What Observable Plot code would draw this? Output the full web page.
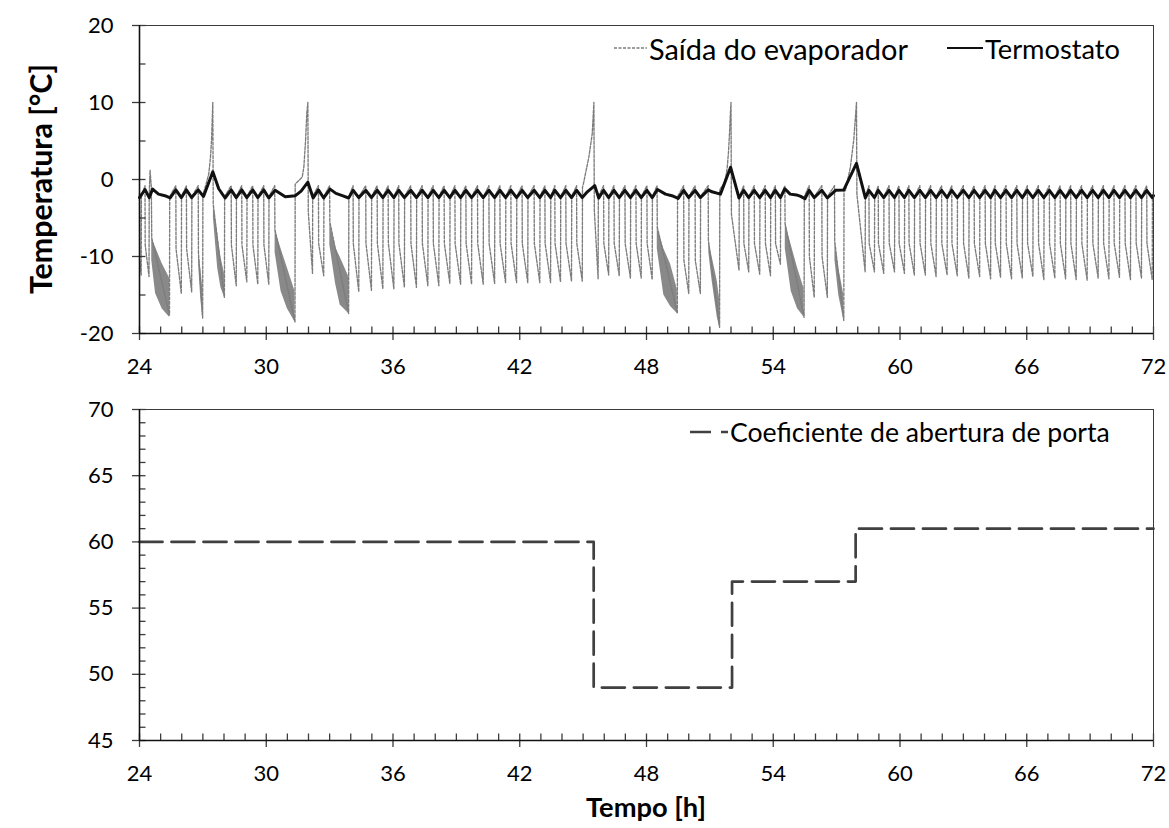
<!DOCTYPE html>
<html><head><meta charset="utf-8">
<script src="https://cdn.jsdelivr.net/npm/d3@7"></script>
<script src="https://cdn.jsdelivr.net/npm/@observablehq/plot@0.6"></script>
<style>
html,body{margin:0;padding:0;background:#fff;overflow:hidden}
#wrap{position:relative;width:1169px;height:828px;font-family:Lato,sans-serif}
#wrap svg{display:block}
</style></head><body><div id="wrap"></div>
<script>
// ---------- data ----------
const xMajor = [24, 30, 36, 42, 48, 54, 60, 66, 72];
const yMajorTemp = [-20, -10, 0, 10, 20];
const yMinorTemp = [-15, -5, 5, 15];
const yMajorPorta = [45, 50, 55, 60, 65, 70];

// Saída do evaporador [t (h), °C]
const evaporador = [
[24.00,-1.8],[24.01,-10.5],[24.08,-12.4],[24.09,-2.2],[24.26,-0.8],[24.27,-8.5],[24.45,-12.6],[24.46,-2.0],[24.50,1.2],[24.56,-1.0],[24.58,-7.6],[25.42,-17.6],[25.43,-2.2],
[25.72,-0.8],[25.73,-9.0],[25.98,-14.8],[25.99,-2.2],[26.22,-0.8],[26.23,-9.0],[26.47,-14.6],[26.48,-2.2],[26.78,-0.8],[26.79,-9.5],[26.99,-18.0],[27.00,-2.0],
[27.16,-0.5],[27.20,-0.1],[27.28,0.75],[27.36,2.9],[27.41,5.1],[27.47,10],[27.49,-3.2],[28.02,-15.3],[28.03,-2.2],
[28.34,-0.8],[28.35,-8.5],[28.58,-13.8],[28.59,-2.2],[28.84,-0.8],[28.85,-8.5],[29.08,-13.3],[29.09,-2.2],[29.36,-0.8],[29.37,-8.5],[29.60,-13.6],[29.61,-2.2],[29.88,-0.8],[29.89,-8.5],[30.12,-13.6],[30.13,-2.2],
[30.40,-0.8],[30.41,-6.5],[31.36,-18.5],[31.37,-0.6],[31.46,-0.35],[31.70,0.3],[31.78,1.6],[31.86,5.0],[31.92,8.6],[31.97,10],[31.99,-4.2],[32.19,-12.2],[32.20,-2.2],
[32.47,-0.8],[32.48,-8.3],[32.72,-12.5],[32.73,-2.2],[33.00,-0.8],[33.01,-5.5],[33.90,-17.4],[33.91,-2.2],
[34.11,-0.8],[34.12,-8.3],[34.38,-14.6],[34.39,-2.2],
[34.71,-0.8],[34.72,-8.3],[34.98,-14.4],[34.99,-2.2],
[35.25,-0.8],[35.26,-8.3],[35.52,-14.2],[35.53,-2.2],
[35.77,-0.8],[35.78,-8.3],[36.04,-14.2],[36.05,-2.2],
[36.27,-0.8],[36.28,-8.3],[36.54,-14.0],[36.55,-2.2],
[36.84,-0.8],[36.85,-8.3],[37.11,-14.0],[37.12,-2.2],
[37.38,-0.8],[37.39,-8.3],[37.65,-13.8],[37.66,-2.2],
[37.90,-0.8],[37.91,-8.3],[38.17,-13.8],[38.18,-2.2],
[38.42,-0.8],[38.43,-8.3],[38.69,-13.5],[38.70,-2.2],
[38.93,-0.8],[38.94,-8.3],[39.20,-13.6],[39.21,-2.2],
[39.45,-0.8],[39.46,-8.3],[39.72,-13.6],[39.73,-2.2],
[40.00,-0.8],[40.01,-8.3],[40.27,-13.6],[40.28,-2.2],
[40.54,-0.8],[40.55,-8.3],[40.81,-13.5],[40.82,-2.2],
[41.06,-0.8],[41.07,-8.3],[41.33,-13.4],[41.34,-2.2],
[41.58,-0.8],[41.59,-8.3],[41.85,-13.4],[41.86,-2.2],
[42.11,-0.8],[42.12,-8.3],[42.38,-13.4],[42.39,-2.2],
[42.68,-0.8],[42.69,-8.3],[42.95,-13.4],[42.96,-2.2],
[43.19,-0.8],[43.20,-8.3],[43.46,-13.4],[43.47,-2.2],
[43.66,-0.8],[43.67,-8.3],[43.93,-13.3],[43.94,-2.2],
[44.18,-0.8],[44.19,-8.3],[44.45,-13.2],[44.46,-2.2],
[44.69,-0.8],[44.70,-8.3],[44.96,-13.2],
[44.97,-1.0],[45.03,-0.35],[45.11,0.75],[45.27,2.9],[45.43,5.9],[45.51,10],[45.53,-4.0],[45.71,-12.9],[45.72,-2.2],
[45.97,-0.8],[45.98,-8.3],[46.21,-12.4],[46.22,-2.2],
[46.46,-0.8],[46.47,-8.3],[46.71,-12.5],[46.72,-2.2],
[46.98,-0.8],[46.99,-8.3],[47.24,-12.8],[47.25,-2.2],
[47.50,-0.8],[47.51,-8.3],[47.75,-12.8],[47.76,-2.2],
[48.02,-0.8],[48.03,-8.3],[48.27,-13.0],[48.28,-2.2],
[48.50,-0.8],[48.51,-6.2],[49.46,-17.4],[49.47,-2.2],
[49.76,-0.8],[49.77,-10.5],[50.00,-14.8],[50.01,-2.2],
[50.30,-0.8],[50.31,-10.5],[50.55,-14.8],[50.56,-2.2],
[50.92,-0.8],[50.93,-7.9],[51.46,-19.2],[51.47,-1.3],
[51.65,-0.6],[51.75,0.3],[51.82,1.5],[51.88,3.5],[51.93,6],[51.97,8.5],[52.00,10],[52.02,-4.5],[52.38,-11.8],[52.39,-2.2],
[52.60,-0.8],[52.61,-8.3],[52.84,-12.0],[52.85,-2.2],
[53.10,-0.8],[53.11,-8.3],[53.36,-12.3],[53.37,-2.2],
[53.62,-0.8],[53.63,-8.3],[53.87,-12.5],[53.88,-2.2],
[54.10,-0.8],[54.11,-8.3],[54.34,-11.0],[54.35,-2.2],
[54.55,-0.8],[54.56,-5.7],[55.46,-17.9],[55.47,-2.2],
[55.70,-0.8],[55.71,-10.0],[55.94,-15.3],[55.95,-2.2],
[56.30,-0.8],[56.31,-10.0],[56.56,-15.3],[56.57,-2.2],
[56.90,-0.8],[56.91,-8.0],[57.34,-18.3],[57.35,-1.6],
[57.42,-1.4],[57.65,1.6],[57.81,5.1],[57.89,8.1],[57.94,10],[57.96,-1.9],[58.35,-12.0],[58.36,-2.2],
[58.53,-0.8],[58.54,-8.3],[58.79,-12.0],[58.80,-2.2],
[58.97,-0.8],[58.98,-8.3],[59.23,-12.2],[59.24,-2.2],
[59.48,-0.8],[59.49,-8.3],[59.74,-12.0],[59.75,-2.2],
[59.95,-0.8],[59.96,-8.3],[60.21,-12.2],[60.22,-2.2],
[60.42,-0.8],[60.43,-8.3],[60.68,-12.4],[60.69,-2.2],
[60.94,-0.8],[60.95,-8.3],[61.20,-12.4],[61.21,-2.2],
[61.45,-0.8],[61.46,-8.3],[61.71,-12.6],[61.72,-2.2],
[61.97,-0.8],[61.98,-8.3],[62.23,-12.4],[62.24,-2.2],
[62.45,-0.8],[62.46,-8.3],[62.71,-12.5],[62.72,-2.2],
[63.00,-0.8],[63.01,-8.3],[63.26,-12.8],[63.27,-2.2],
[63.51,-0.8],[63.52,-8.3],[63.77,-12.6],[63.78,-2.2],
[64.03,-0.8],[64.04,-8.3],[64.29,-12.9],[64.30,-2.2],
[64.50,-0.8],[64.51,-8.3],[64.76,-12.7],[64.77,-2.2],
[65.02,-0.8],[65.03,-8.3],[65.28,-12.9],[65.29,-2.2],
[65.53,-0.8],[65.54,-8.3],[65.79,-12.8],[65.80,-2.2],
[66.03,-0.8],[66.04,-8.3],[66.29,-12.6],[66.30,-2.2],
[66.55,-0.8],[66.56,-8.3],[66.81,-13.0],[66.82,-2.2],
[67.07,-0.8],[67.08,-8.3],[67.33,-12.8],[67.34,-2.2],
[67.58,-0.8],[67.59,-8.3],[67.84,-12.9],[67.85,-2.2],
[68.08,-0.8],[68.09,-8.3],[68.34,-13.0],[68.35,-2.2],
[68.60,-0.8],[68.61,-8.3],[68.86,-13.1],[68.87,-2.2],
[69.12,-0.8],[69.13,-8.3],[69.38,-12.8],[69.39,-2.2],
[69.63,-0.8],[69.64,-8.3],[69.89,-12.9],[69.90,-2.2],
[70.13,-0.8],[70.14,-8.3],[70.39,-12.7],[70.40,-2.2],
[70.65,-0.8],[70.66,-8.3],[70.91,-13.0],[70.92,-2.2],
[71.17,-0.8],[71.18,-8.3],[71.43,-12.8],[71.44,-2.2],
[71.68,-0.8],[71.69,-8.3],[71.94,-13.0],[71.95,-2.2],
[72.00,-1.6]
];

// dense low-temperature bands of the evaporator outlet: [band, t, upper °C, lower °C]
const faixas = [
["a",24.58,-7.6,-10.5],["a",24.76,-8.8,-14.8],["a",25.07,-10.9,-16.8],["a",25.42,-12.8,-17.9],
["b",26.80,-9.5,-11.0],["b",26.90,-11.5,-15.5],["b",26.99,-14.0,-18.0],
["c",27.50,-3.2,-5.0],["c",27.70,-7.0,-11.5],["c",27.85,-10.0,-14.0],["c",28.02,-12.2,-15.3],
["d",30.42,-6.5,-9.5],["d",30.70,-9.0,-14.5],["d",31.00,-11.5,-16.8],["d",31.36,-14.5,-18.5],
["e",33.01,-5.5,-8.5],["e",33.28,-8.8,-13.5],["e",33.50,-10.1,-16.3],["e",33.90,-12.6,-17.4],
["f",48.51,-6.2,-9.0],["f",48.82,-9.0,-15.0],["f",49.14,-11.0,-16.5],["f",49.46,-14.3,-17.4],
["g",50.95,-7.9,-9.5],["g",51.11,-10.1,-13.2],["g",51.35,-13.2,-17.9],["g",51.46,-15.5,-19.2],
["h",54.57,-5.7,-9.0],["h",54.85,-8.5,-14.5],["h",55.15,-11.5,-16.8],["h",55.46,-14.2,-17.9],
["i",56.92,-8.0,-10.5],["i",57.10,-11.5,-15.0],["i",57.34,-15.0,-18.3]
];

// Termostato [t (h), °C]
const termostato = [
[24.00,-2.35],[24.26,-1.3],[24.46,-2.35],[24.62,-1.25],[24.90,-1.9],[25.20,-2.1],[25.45,-2.4],
[25.72,-1.35],[25.98,-2.35],[26.22,-1.35],[26.47,-2.35],[26.78,-1.35],[27.03,-2.2],[27.47,1.0],[27.75,-1.2],[28.05,-2.4],
[28.34,-1.35],[28.58,-2.35],[28.84,-1.35],[29.08,-2.35],[29.36,-1.35],[29.60,-2.35],[29.88,-1.35],[30.12,-2.4],
[30.42,-1.4],[30.90,-2.25],[31.38,-2.1],[31.65,-1.5],[31.97,-0.35],[32.22,-2.4],[32.47,-1.35],[32.72,-2.4],[33.02,-1.25],[33.30,-1.8],[33.60,-2.1],[33.90,-2.4],
[34.11,-1.4],[34.38,-2.35],[34.71,-1.4],[34.98,-2.35],[35.25,-1.4],[35.52,-2.35],[35.77,-1.4],[36.04,-2.35],[36.27,-1.4],[36.54,-2.35],[36.84,-1.4],[37.11,-2.35],[37.38,-1.4],[37.65,-2.35],[37.90,-1.4],[38.17,-2.35],[38.42,-1.4],[38.69,-2.35],[38.93,-1.4],[39.20,-2.35],[39.45,-1.4],[39.72,-2.35],[40.00,-1.4],[40.27,-2.35],[40.54,-1.4],[40.81,-2.35],[41.06,-1.4],[41.33,-2.35],[41.58,-1.4],[41.85,-2.35],[42.11,-1.4],[42.38,-2.35],[42.68,-1.4],[42.95,-2.35],[43.19,-1.4],[43.46,-2.35],[43.66,-1.4],[43.93,-2.35],[44.18,-1.4],[44.45,-2.35],[44.69,-1.4],[44.96,-2.35],
[45.20,-1.6],[45.55,-0.8],[45.74,-2.4],
[45.97,-1.4],[46.21,-2.35],[46.46,-1.4],[46.71,-2.35],[46.98,-1.4],[47.24,-2.35],[47.50,-1.4],[47.75,-2.35],[48.02,-1.4],[48.27,-2.35],
[48.52,-1.3],[48.90,-1.9],[49.20,-2.1],[49.50,-2.45],
[49.76,-1.4],[50.00,-2.35],[50.30,-1.4],[50.55,-2.35],
[50.92,-1.35],[51.10,-1.6],[51.50,-1.9],[51.98,1.6],[52.38,-2.4],
[52.60,-1.4],[52.84,-2.35],[53.10,-1.4],[53.36,-2.35],[53.62,-1.4],[53.87,-2.35],[54.10,-1.4],[54.34,-2.35],
[54.55,-1.2],[54.80,-1.9],[55.10,-2.0],[55.30,-2.2],[55.50,-2.5],
[55.70,-1.4],[55.94,-2.35],[56.30,-1.4],[56.56,-2.4],[56.95,-1.4],[57.34,-1.35],[57.94,2.1],[58.36,-2.4],
[58.53,-1.4],[58.79,-2.35],[58.97,-1.4],[59.23,-2.35],[59.48,-1.4],[59.74,-2.35],[59.95,-1.4],[60.21,-2.35],[60.42,-1.4],[60.68,-2.35],[60.94,-1.4],[61.20,-2.35],[61.45,-1.4],[61.71,-2.35],[61.97,-1.4],[62.23,-2.35],[62.45,-1.4],[62.71,-2.35],[63.00,-1.4],[63.26,-2.35],[63.51,-1.4],[63.77,-2.35],[64.03,-1.4],[64.29,-2.35],[64.50,-1.4],[64.76,-2.35],[65.02,-1.4],[65.28,-2.35],[65.53,-1.4],[65.79,-2.35],[66.03,-1.4],[66.29,-2.35],[66.55,-1.4],[66.81,-2.35],[67.07,-1.4],[67.33,-2.35],[67.58,-1.4],[67.84,-2.35],[68.08,-1.4],[68.34,-2.35],[68.60,-1.4],[68.86,-2.35],[69.12,-1.4],[69.38,-2.35],[69.63,-1.4],[69.89,-2.35],[70.13,-1.4],[70.39,-2.35],[70.65,-1.4],[70.91,-2.35],[71.17,-1.4],[71.43,-2.35],[71.68,-1.4],[71.94,-2.35],[72.00,-2.1]
];

// Coeficiente de abertura de porta (step series)
const portaT = [24, 45.5, 52.05, 57.9, 72];
const portaV = [60, 49, 57, 61, 61];

// ---------- chart ----------
const W = 1169, ML = 139, MR = 16;
const plotW = W - ML - MR;
const xMinor = d3.range(24, 73, 1).filter(v => !xMajor.includes(v));
const yMinorPorta = d3.range(45, 71, 1).filter(v => !yMajorPorta.includes(v));
const fmt = d => String(d);
const tickCol = "#3c3c3c";
const evapCol = "#7c7c7c";

function axesMarks(yMaj, yMin, yBottom, plotH) {
  return [
    Plot.frame({stroke: "#3a3a3a", strokeWidth: 1}),
    Plot.tickY(yMaj, {y: d => d, insetLeft: -7, insetRight: plotW - 6.5, stroke: tickCol, strokeWidth: 1.3}),
    Plot.tickY(yMin, {y: d => d, insetLeft: 0, insetRight: plotW - 6.5, stroke: tickCol, strokeWidth: 1.3}),
    Plot.tickX(xMajor, {x: d => d, insetTop: plotH - 6.5, insetBottom: -7, stroke: tickCol, strokeWidth: 1.3}),
    Plot.tickX(xMinor, {x: d => d, insetTop: plotH - 6.5, insetBottom: 0, stroke: tickCol, strokeWidth: 1.3}),
    Plot.ruleX([24], {stroke: "#111", strokeWidth: 1.6}),
    Plot.ruleY([yBottom], {stroke: "#111", strokeWidth: 1.6}),
    Plot.axisY({ticks: yMaj, tickSize: 0, tickPadding: 26, tickFormat: fmt, label: null, fontSize: 22, fill: "#000"}),
    Plot.axisX({ticks: xMajor, tickSize: 0, tickPadding: 25, tickFormat: fmt, label: null, fontSize: 22, fill: "#000"})
  ];
}

const topH = 385, topMT = 25, topMB = 52;
const topChart = Plot.plot({
  width: W, height: topH,
  marginLeft: ML, marginRight: MR, marginTop: topMT, marginBottom: topMB,
  x: {domain: [24, 72], label: null},
  y: {domain: [-20, 20], label: null},
  style: {fontFamily: "Lato, sans-serif", fontSize: "22px", color: "#000", background: "#fff"},
  marks: [
    Plot.areaY(faixas, {x: d => d[1], y1: d => d[3], y2: d => d[2], z: d => d[0], fill: evapCol, fillOpacity: 0.9}),
    Plot.line(evaporador, {x: d => d[0], y: d => d[1], stroke: evapCol, strokeWidth: 1.35, strokeDasharray: "3,1.5"}),
    Plot.line(termostato, {x: d => d[0], y: d => d[1], stroke: "#111", strokeWidth: 3, strokeLinejoin: "round"}),
    ...axesMarks(yMajorTemp, yMinorTemp, -20, topH - topMT - topMB)
  ]
});

const botH = 443, botMT = 24, botMB = 88;
const porta = portaT.map((t, i) => ({t, v: portaV[i]}));
const botChart = Plot.plot({
  width: W, height: botH,
  marginLeft: ML, marginRight: MR, marginTop: botMT, marginBottom: botMB,
  x: {domain: [24, 72], label: null},
  y: {domain: [45, 70], label: null},
  style: {fontFamily: "Lato, sans-serif", fontSize: "22px", color: "#000", background: "#fff"},
  marks: [
    Plot.line(porta, {x: "t", y: "v", curve: "step-after", stroke: "#404040", strokeWidth: 2.7, strokeDasharray: "23,9"}),
    ...axesMarks(yMajorPorta, yMinorPorta, 45, botH - botMT - botMB)
  ]
});

const wrap = document.getElementById("wrap");
wrap.append(topChart, botChart);

// ---------- titles and legends (overlay) ----------
const ov = d3.select(wrap).append("svg")
  .attr("width", W).attr("height", 828)
  .style("position", "absolute").style("left", "0px").style("top", "0px")
  .style("font-family", "Lato, sans-serif");

function fit(sel, target) {
  const w = sel.node().getComputedTextLength();
  const fs = parseFloat(sel.attr("font-size"));
  if (w > 0) sel.attr("font-size", (fs * target / w).toFixed(2));
  return sel;
}

// y title
fit(ov.append("text").attr("transform", "translate(40,179) rotate(-90)")
  .attr("text-anchor", "middle").attr("dominant-baseline", "central")
  .attr("font-weight", "bold").attr("font-size", 24).text("Temperatura [°C]"), 230);
// x title
fit(ov.append("text").attr("x", 646).attr("y", 806)
  .attr("text-anchor", "middle").attr("dominant-baseline", "central")
  .attr("font-weight", "bold").attr("font-size", 24).text("Tempo [h]"), 120);

// top legend
ov.append("line").attr("x1", 614).attr("x2", 647).attr("y1", 48).attr("y2", 48)
  .attr("stroke", evapCol).attr("stroke-width", 1.35).attr("stroke-dasharray", "3,1.5");
fit(ov.append("text").attr("x", 649).attr("y", 48).attr("dominant-baseline", "central")
  .attr("font-size", 22).text("Saída do evaporador"), 259);
ov.append("line").attr("x1", 947).attr("x2", 983).attr("y1", 48).attr("y2", 48)
  .attr("stroke", "#111").attr("stroke-width", 2);
fit(ov.append("text").attr("x", 985).attr("y", 48).attr("dominant-baseline", "central")
  .attr("font-size", 22).text("Termostato"), 135);

// bottom legend
ov.append("line").attr("x1", 690).attr("x2", 728).attr("y1", 432).attr("y2", 432)
  .attr("stroke", "#404040").attr("stroke-width", 2.6).attr("stroke-dasharray", "21,10");
fit(ov.append("text").attr("x", 730).attr("y", 432).attr("dominant-baseline", "central")
  .attr("font-size", 22).text("Coeficiente de abertura de porta"), 380);
</script></body></html>
